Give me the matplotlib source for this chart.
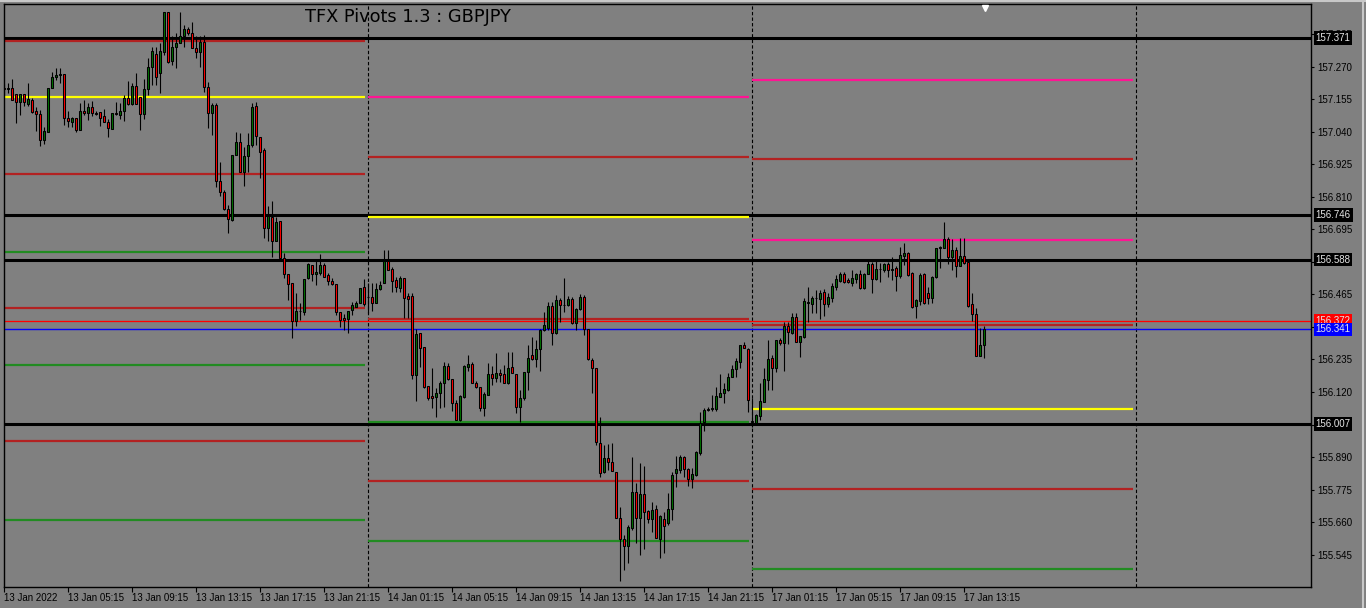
import matplotlib
matplotlib.use('Agg')
import matplotlib.pyplot as plt
import matplotlib.transforms as mtransforms
from matplotlib.lines import Line2D
import numpy as np

# GBPJPY M15 candles, 13 Jan 2022 01:15 -> 17 Jan 2022 14:30
opens = [
    157.194, 157.190, 157.194, 157.173, 157.145, 157.173, 157.138, 157.152, 157.113, 157.102,
    157.010, 157.039, 157.194, 157.233, 157.240, 157.244, 157.088, 157.074, 157.088, 157.046,
    157.113, 157.106, 157.127, 157.106, 157.109, 157.095, 157.074, 157.049, 157.106, 157.099,
    157.113, 157.159, 157.138, 157.201, 157.162, 157.102, 157.190, 157.268, 157.314, 157.247,
    157.321, 157.463, 157.289, 157.339, 157.353, 157.378, 157.403, 157.388, 157.335, 157.321,
    157.357, 157.198, 157.106, 157.134, 156.865, 156.827, 156.767, 156.728, 156.957, 157.003,
    156.897, 156.954, 156.993, 157.130, 157.021, 156.975, 156.699, 156.738, 156.653, 156.724,
    156.593, 156.537, 156.505, 156.371, 156.406, 156.403, 156.523, 156.569, 156.537, 156.540,
    156.569, 156.533, 156.512, 156.502, 156.403, 156.381, 156.378, 156.410, 156.420, 156.434,
    156.491, 156.456, 156.456, 156.434, 156.484, 156.505, 156.583, 156.555, 156.516, 156.487,
    156.523, 156.459, 156.459, 156.180, 156.328, 156.279, 156.141, 156.106, 156.102, 156.116,
    156.152, 156.212, 156.166, 156.081, 156.021, 156.102, 156.208, 156.219, 156.152, 156.137,
    156.063, 156.109, 156.183, 156.169, 156.187, 156.183, 156.152, 156.208, 156.183, 156.067,
    156.099, 156.191, 156.251, 156.236, 156.272, 156.339, 156.346, 156.424, 156.328, 156.445,
    156.427, 156.427, 156.449, 156.364, 156.413, 156.456, 156.342, 156.233, 156.205, 155.940,
    155.837, 155.887, 155.872, 155.837, 155.675, 155.600, 155.576, 155.639, 155.766, 155.675,
    155.759, 155.699, 155.671, 155.706, 155.600, 155.671, 155.657, 155.706, 155.834, 155.844,
    155.890, 155.848, 155.812, 155.827, 155.904, 156.014, 156.056, 156.060, 156.060, 156.102,
    156.116, 156.127, 156.173, 156.201, 156.226, 156.286, 156.272, 156.014, 156.010, 156.035,
    156.085, 156.162, 156.240, 156.205, 156.304, 156.293, 156.353, 156.328, 156.385, 156.297,
    156.314, 156.434, 156.431, 156.452, 156.449, 156.473, 156.431, 156.452, 156.491, 156.512,
    156.537, 156.516, 156.505, 156.519, 156.537, 156.487, 156.537, 156.572, 156.519, 156.555,
    156.551, 156.572, 156.551, 156.558, 156.530, 156.600, 156.611, 156.540, 156.424, 156.441,
    156.537, 156.470, 156.452, 156.526, 156.629, 156.629, 156.660, 156.597, 156.622, 156.565,
    156.600, 156.579, 156.431, 156.396, 156.247, 156.286,
]
closes = [
    157.190, 157.194, 157.152, 157.145, 157.173, 157.145, 157.155, 157.109, 157.102, 157.010,
    157.042, 157.194, 157.233, 157.240, 157.244, 157.088, 157.077, 157.088, 157.046, 157.113,
    157.106, 157.127, 157.106, 157.102, 157.088, 157.074, 157.053, 157.106, 157.102, 157.113,
    157.159, 157.138, 157.201, 157.138, 157.102, 157.190, 157.268, 157.325, 157.233, 157.325,
    157.463, 157.286, 157.339, 157.353, 157.378, 157.403, 157.388, 157.335, 157.321, 157.357,
    157.198, 157.106, 157.134, 156.865, 156.827, 156.767, 156.731, 156.957, 157.003, 156.897,
    156.954, 156.993, 157.127, 157.024, 156.968, 156.699, 156.742, 156.653, 156.721, 156.593,
    156.537, 156.502, 156.371, 156.406, 156.406, 156.519, 156.572, 156.537, 156.544, 156.569,
    156.526, 156.512, 156.502, 156.403, 156.374, 156.374, 156.406, 156.427, 156.434, 156.487,
    156.431, 156.456, 156.434, 156.484, 156.498, 156.583, 156.551, 156.512, 156.491, 156.523,
    156.452, 156.449, 156.180, 156.325, 156.275, 156.137, 156.099, 156.099, 156.116, 156.152,
    156.212, 156.166, 156.081, 156.021, 156.106, 156.212, 156.219, 156.152, 156.137, 156.063,
    156.113, 156.183, 156.169, 156.187, 156.180, 156.152, 156.205, 156.187, 156.067, 156.099,
    156.191, 156.240, 156.236, 156.272, 156.339, 156.357, 156.424, 156.328, 156.445, 156.427,
    156.427, 156.449, 156.364, 156.413, 156.456, 156.342, 156.236, 156.205, 155.943, 155.834,
    155.887, 155.872, 155.841, 155.675, 155.600, 155.576, 155.643, 155.766, 155.675, 155.759,
    155.696, 155.671, 155.703, 155.604, 155.682, 155.646, 155.706, 155.827, 155.848, 155.890,
    155.848, 155.812, 155.830, 155.908, 156.010, 156.056, 156.060, 156.063, 156.106, 156.116,
    156.130, 156.173, 156.201, 156.229, 156.286, 156.275, 156.092, 156.017, 156.039, 156.088,
    156.166, 156.236, 156.205, 156.304, 156.293, 156.353, 156.332, 156.385, 156.297, 156.318,
    156.441, 156.438, 156.452, 156.452, 156.470, 156.431, 156.456, 156.494, 156.519, 156.537,
    156.508, 156.508, 156.523, 156.537, 156.487, 156.537, 156.572, 156.519, 156.555, 156.555,
    156.572, 156.551, 156.555, 156.530, 156.604, 156.611, 156.533, 156.420, 156.445, 156.533,
    156.434, 156.452, 156.526, 156.629, 156.632, 156.660, 156.597, 156.622, 156.565, 156.600,
    156.576, 156.424, 156.396, 156.247, 156.286, 156.341,
]
highs = [
    157.208, 157.212, 157.226, 157.173, 157.173, 157.173, 157.212, 157.159, 157.127, 157.116,
    157.056, 157.194, 157.251, 157.265, 157.265, 157.244, 157.113, 157.092, 157.088, 157.141,
    157.152, 157.141, 157.148, 157.113, 157.109, 157.120, 157.085, 157.106, 157.145, 157.141,
    157.169, 157.219, 157.212, 157.247, 157.162, 157.226, 157.300, 157.339, 157.339, 157.353,
    157.463, 157.463, 157.378, 157.388, 157.463, 157.417, 157.410, 157.427, 157.378, 157.378,
    157.381, 157.215, 157.141, 157.141, 156.933, 156.834, 156.781, 156.940, 157.039, 157.035,
    156.986, 157.035, 157.141, 157.145, 157.021, 156.982, 156.777, 156.795, 156.738, 156.724,
    156.611, 156.537, 156.505, 156.470, 156.434, 156.519, 156.576, 156.569, 156.586, 156.607,
    156.576, 156.540, 156.523, 156.502, 156.403, 156.396, 156.406, 156.438, 156.441, 156.487,
    156.519, 156.505, 156.505, 156.505, 156.512, 156.622, 156.622, 156.562, 156.526, 156.530,
    156.523, 156.470, 156.470, 156.342, 156.328, 156.279, 156.141, 156.205, 156.134, 156.159,
    156.226, 156.222, 156.166, 156.092, 156.109, 156.215, 156.251, 156.226, 156.159, 156.137,
    156.120, 156.222, 156.212, 156.258, 156.201, 156.215, 156.261, 156.261, 156.183, 156.127,
    156.191, 156.286, 156.314, 156.304, 156.342, 156.403, 156.438, 156.438, 156.463, 156.452,
    156.523, 156.459, 156.456, 156.417, 156.466, 156.463, 156.342, 156.240, 156.205, 156.032,
    155.933, 155.936, 155.940, 155.837, 155.714, 155.615, 155.650, 155.890, 155.798, 155.869,
    155.858, 155.703, 155.731, 155.721, 155.685, 155.696, 155.763, 155.837, 155.894, 155.897,
    155.894, 155.851, 155.851, 155.911, 156.049, 156.063, 156.067, 156.109, 156.137, 156.183,
    156.152, 156.187, 156.215, 156.240, 156.286, 156.297, 156.275, 156.099, 156.042, 156.152,
    156.205, 156.304, 156.251, 156.304, 156.311, 156.367, 156.367, 156.399, 156.399, 156.318,
    156.452, 156.491, 156.459, 156.480, 156.480, 156.484, 156.470, 156.505, 156.533, 156.544,
    156.544, 156.523, 156.551, 156.540, 156.551, 156.540, 156.583, 156.579, 156.583, 156.576,
    156.576, 156.579, 156.597, 156.565, 156.632, 156.646, 156.615, 156.544, 156.449, 156.540,
    156.540, 156.491, 156.530, 156.629, 156.636, 156.720, 156.668, 156.660, 156.632, 156.664,
    156.664, 156.583, 156.470, 156.417, 156.346, 156.353,
]
lows = [
    157.169, 157.176, 157.152, 157.070, 157.099, 157.130, 157.130, 157.106, 157.042, 156.989,
    156.996, 157.039, 157.194, 157.222, 157.212, 157.063, 157.056, 157.056, 157.039, 157.046,
    157.099, 157.081, 157.095, 157.099, 157.060, 157.074, 157.021, 157.049, 157.099, 157.085,
    157.077, 157.134, 157.134, 157.138, 157.046, 157.085, 157.169, 157.205, 157.205, 157.176,
    157.311, 157.282, 157.275, 157.265, 157.353, 157.339, 157.381, 157.335, 157.300, 157.268,
    157.180, 157.053, 157.028, 156.844, 156.812, 156.763, 156.682, 156.724, 156.957, 156.897,
    156.848, 156.897, 156.986, 156.993, 156.876, 156.664, 156.653, 156.597, 156.653, 156.593,
    156.523, 156.445, 156.311, 156.353, 156.374, 156.392, 156.519, 156.512, 156.498, 156.533,
    156.526, 156.498, 156.498, 156.392, 156.350, 156.339, 156.328, 156.392, 156.420, 156.434,
    156.424, 156.399, 156.406, 156.434, 156.480, 156.505, 156.551, 156.473, 156.473, 156.473,
    156.381, 156.381, 156.166, 156.088, 156.208, 156.134, 156.092, 156.063, 156.032, 156.063,
    156.067, 156.162, 156.053, 156.021, 156.017, 156.099, 156.194, 156.152, 156.134, 156.053,
    156.035, 156.109, 156.145, 156.155, 156.155, 156.152, 156.148, 156.187, 156.046, 156.014,
    156.092, 156.127, 156.233, 156.208, 156.194, 156.335, 156.339, 156.286, 156.325, 156.367,
    156.403, 156.424, 156.360, 156.339, 156.410, 156.321, 156.233, 156.116, 155.933, 155.820,
    155.834, 155.844, 155.841, 155.675, 155.452, 155.491, 155.516, 155.632, 155.586, 155.544,
    155.565, 155.657, 155.625, 155.604, 155.533, 155.551, 155.650, 155.667, 155.784, 155.834,
    155.820, 155.788, 155.781, 155.823, 155.897, 155.982, 156.053, 156.053, 156.053, 156.102,
    156.081, 156.123, 156.173, 156.173, 156.205, 156.275, 156.049, 155.996, 156.010, 156.021,
    156.085, 156.127, 156.127, 156.191, 156.286, 156.194, 156.290, 156.325, 156.297, 156.244,
    156.311, 156.367, 156.399, 156.399, 156.378, 156.388, 156.420, 156.438, 156.480, 156.508,
    156.505, 156.505, 156.494, 156.505, 156.484, 156.484, 156.537, 156.470, 156.516, 156.508,
    156.544, 156.526, 156.516, 156.477, 156.523, 156.569, 156.530, 156.417, 156.381, 156.427,
    156.431, 156.431, 156.434, 156.523, 156.558, 156.629, 156.572, 156.551, 156.526, 156.565,
    156.572, 156.420, 156.371, 156.247, 156.247, 156.240,
]

# pivot levels
black_levels = [157.371, 156.746, 156.588, 156.007]
day1_levels = [157.360, 157.162, 156.892, 156.616, 156.418, 156.217, 155.947, 155.669]
day2_levels = [157.163, 156.952, 156.740, 156.378, 156.014, 155.806, 155.594]
day3_levels = [157.224, 156.942, 156.657, 156.358, 156.060, 155.777, 155.495]
ask_price = 156.372
bid_price = 156.341

# candle index where each day starts (day 1, day 2, day 3, next day)
day_starts = [0, 91, 187, 283]

time_labels = ['13 Jan 2022', '13 Jan 05:15', '13 Jan 09:15', '13 Jan 13:15', '13 Jan 17:15',
               '13 Jan 21:15', '14 Jan 01:15', '14 Jan 05:15', '14 Jan 09:15', '14 Jan 13:15',
               '14 Jan 17:15', '14 Jan 21:15', '17 Jan 01:15', '17 Jan 05:15', '17 Jan 09:15',
               '17 Jan 13:15']
price_ticks = [157.385, 157.270, 157.155, 157.040, 156.925, 156.810, 156.695, 156.580, 156.465,
               156.350, 156.235, 156.120, 156.005, 155.890, 155.775, 155.660, 155.545]
# these tick labels sit fully under the price boxes
hidden_ticks = [156.580, 156.350, 156.005]

RED = '#b22222'
GREEN = '#228b22'
YELLOW = '#ffff00'
PINK = '#ff1493'
day1_colors = [RED, YELLOW, RED, GREEN, RED, GREEN, RED, GREEN]
day2_colors = [PINK, RED, YELLOW, RED, GREEN, RED, GREEN]
day3_colors = [PINK, RED, PINK, RED, YELLOW, RED, GREEN]

BG = '#808080'
W, H = 1366, 608
fig = plt.figure(figsize=(W / 100, H / 100), dpi=100)
fig.patch.set_facecolor(BG)
# plot frame in pixels: x 4..1311, y 4..587
ax = fig.add_axes([4 / W, (H - 587) / H, (1311 - 4) / W, (587 - 4) / H])
ax.set_facecolor(BG)
ax.set_xlim(0, (1311 - 4) / 4)
ax.set_ylim(155.431, 157.491)

# day separators
for d in day_starts[1:]:
    ax.axvline(d, color='black', lw=0.8, linestyle=(0, (3, 2)), zorder=1)

# weekly levels, full width
for lvl in black_levels:
    ax.axhline(lvl, color='black', lw=2.2, zorder=2)
ax.axhline(ask_price, color='#ff0000', lw=0.9, snap=True, zorder=2)
ax.axhline(bid_price, color='#0000ff', lw=1.0, snap=True, zorder=2)

# daily pivots
for k, (levels, cols) in enumerate([(day1_levels, day1_colors),
                                    (day2_levels, day2_colors),
                                    (day3_levels, day3_colors)]):
    x0 = day_starts[k] if k > 0 else -1
    x1 = day_starts[k + 1] - 0.8
    for lvl, c in zip(levels, cols):
        ax.hlines(lvl, x0, x1, colors=c, lw=1.6, zorder=2)

# candles
o = np.array(opens)
c = np.array(closes)
idx = np.arange(len(c))
up = c >= o
ax.vlines(idx, lows, highs, color='black', lw=0.8, zorder=3)
ax.bar(idx, c - o, bottom=o, width=0.58, color=np.where(up, '#007000', '#ff0000'),
       edgecolor='black', linewidth=0.75, zorder=4)

# axes styling
for s in ax.spines.values():
    s.set_color('black')
    s.set_linewidth(1.0)
tick_font = 'Liberation Sans'
ax.yaxis.tick_right()
ax.set_yticks(price_ticks)
ax.set_yticklabels(['' if p in hidden_ticks else f'{p:.3f}' for p in price_ticks],
                   fontfamily=tick_font)
ax.tick_params(axis='y', direction='out', length=2.5, width=0.8, pad=2, labelsize=7,
               colors='black')
ax.set_xticks(np.arange(len(time_labels)) * 16)
ax.set_xticklabels(time_labels, fontfamily=tick_font)
ax.tick_params(axis='x', direction='out', length=3.6, width=0.8, pad=0.8, labelsize=7,
               colors='black')
for lbl in ax.get_xticklabels():
    lbl.set_ha('left')

# price boxes on the right axis
def price_box(level, face, txt='#e6e6e6'):
    ax.annotate(f'{level:.3f}', xy=(1, level), xycoords=('axes fraction', 'data'),
                xytext=(3.4, 0), textcoords='offset points', ha='left', va='center',
                fontsize=7, fontfamily=tick_font, color=txt, zorder=10,
                annotation_clip=False,
                bbox=dict(boxstyle='square,pad=0.18', fc=face, ec='none'))

for lvl in black_levels:
    price_box(lvl, 'black')
price_box(ask_price, '#ff0000')
price_box(bid_price, '#0000ff')

# title and chart shift marker
fig.text(305 / W, 1 - 17 / H, 'TFX Pivots 1.3 : GBPJPY', fontsize=12.8, color='black',
         ha='left', va='center', zorder=10)
marker_tr = mtransforms.blended_transform_factory(ax.transData, ax.transAxes)
ax.plot([245.25], [0.993], marker='v', color='white', ms=5, mec='white',
        transform=marker_tr, clip_on=False, zorder=10)

# window border
fig.add_artist(Line2D([0, 1], [1 - 1.2 / H] * 2, color='#c8c8c8', lw=1.5))
fig.add_artist(Line2D([1 - 3.5 / W] * 2, [0, 1], color='#c8c8c8', lw=1.5))

fig.savefig('out.png', dpi=100, facecolor=BG)
